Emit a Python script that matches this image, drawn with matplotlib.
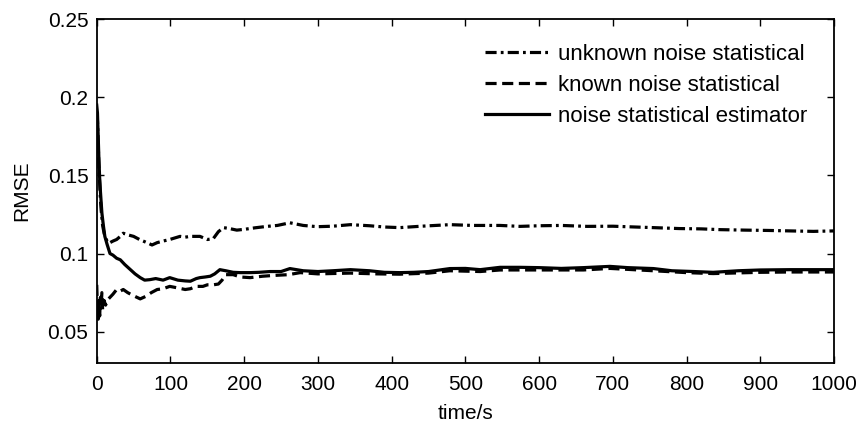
import matplotlib
matplotlib.use('Agg')
import matplotlib.pyplot as plt
from matplotlib.ticker import FixedLocator, FuncFormatter

plt.rcParams['font.family'] = ['Liberation Sans', 'DejaVu Sans']
plt.rcParams['lines.scale_dashes'] = False

# unknown noise statistical (dash-dot)
t_unknown = [0, 1, 2, 3, 4, 5, 6, 8, 10, 12, 15, 18, 22, 27, 32, 36, 42, 50, 58, 68,
             75, 82, 90, 99, 106, 113, 120, 127, 140, 150, 158, 165, 172, 180, 190, 200,
             215, 231, 245, 262, 280, 299, 320, 344, 370, 390, 411, 440, 479, 510, 547,
             574, 600, 630, 665, 700, 730, 755, 790, 820, 846, 880, 910, 940, 972, 1000]
v_unknown = [0.19, 0.185, 0.17, 0.155, 0.145, 0.135, 0.128, 0.118, 0.113, 0.110, 0.107,
             0.107, 0.108, 0.109, 0.111, 0.113, 0.112, 0.111, 0.109, 0.107, 0.1055, 0.107,
             0.108, 0.109, 0.110, 0.111, 0.1105, 0.111, 0.111, 0.109, 0.1095, 0.114, 0.1166,
             0.116, 0.115, 0.1155, 0.1165, 0.1174, 0.118, 0.1197, 0.118, 0.1172, 0.1175,
             0.1185, 0.1178, 0.117, 0.1166, 0.1175, 0.1185, 0.118, 0.118, 0.1174, 0.1178,
             0.118, 0.1174, 0.1175, 0.117, 0.1166, 0.116, 0.1158, 0.1153, 0.115, 0.1148,
             0.1145, 0.1142, 0.1145]

# known noise statistical (dashed)
t_known = [0, 1, 2, 3, 4, 5, 6, 7, 8, 10, 12, 15, 18, 22, 27, 32, 36, 42, 50, 59, 66,
           74, 82, 90, 99, 110, 120, 127, 135, 144, 150, 158, 165, 170, 175, 185, 195,
           208, 225, 240, 260, 276, 300, 344, 380, 411, 450, 479, 520, 547, 600, 660,
           696, 755, 800, 836, 900, 940, 1000]
v_known = [0.08, 0.065, 0.058, 0.07, 0.06, 0.072, 0.066, 0.075, 0.064, 0.07, 0.067,
           0.0705, 0.072, 0.074, 0.077, 0.076, 0.077, 0.075, 0.073, 0.071, 0.0725, 0.075,
           0.077, 0.0775, 0.079, 0.078, 0.077, 0.0775, 0.079, 0.079, 0.080, 0.080, 0.0805,
           0.083, 0.0865, 0.0865, 0.085, 0.0846, 0.0855, 0.086, 0.0865, 0.0878, 0.087,
           0.0875, 0.087, 0.0868, 0.0875, 0.089, 0.0885, 0.0895, 0.0895, 0.0895, 0.0905,
           0.089, 0.0878, 0.0872, 0.088, 0.0882, 0.0882]

# noise statistical estimator (solid)
t_est = [0, 1, 2, 3, 4, 5, 7, 9, 11, 14, 18, 22, 27, 32, 38, 45, 52, 59, 65, 72, 80,
         90, 99, 110, 120, 127, 135, 140, 147, 154, 160, 167, 175, 185, 195, 208, 220,
         235, 250, 262, 280, 300, 320, 344, 370, 390, 411, 430, 450, 479, 500, 520, 547,
         574, 600, 630, 660, 696, 720, 755, 780, 810, 836, 870, 900, 940, 970, 1000]
v_est = [0.195, 0.19, 0.175, 0.16, 0.148, 0.14, 0.126, 0.118, 0.111, 0.106, 0.100,
         0.099, 0.097, 0.096, 0.093, 0.090, 0.087, 0.0846, 0.083, 0.0833, 0.084, 0.083,
         0.0846, 0.083, 0.0825, 0.0823, 0.084, 0.0846, 0.085, 0.0855, 0.087, 0.0897,
         0.089, 0.088, 0.0878, 0.0878, 0.088, 0.0885, 0.0885, 0.0904, 0.089, 0.0885,
         0.089, 0.0897, 0.089, 0.088, 0.0878, 0.088, 0.0885, 0.0904, 0.0905, 0.0897,
         0.0912, 0.0912, 0.091, 0.0905, 0.091, 0.0918, 0.091, 0.0904, 0.089, 0.0885,
         0.088, 0.089, 0.0895, 0.0897, 0.0897, 0.0897]

x_ticks = [0, 100, 200, 300, 400, 500, 600, 700, 800, 900, 1000]
y_ticks = [0.05, 0.1, 0.15, 0.2, 0.25]

fig = plt.figure(figsize=(8.59, 4.26), dpi=100)
ax = fig.add_axes([0.1126, 0.148, 0.8584, 0.807])

ax.plot(t_unknown, v_unknown, color='k', lw=2.3, linestyle=(0, (8, 3, 2, 3)),
        label='unknown noise statistical')
ax.plot(t_known, v_known, color='k', lw=2.3, linestyle=(0, (8, 4)),
        label='known noise statistical')
ax.plot(t_est, v_est, color='k', lw=2.3, linestyle='-',
        label='noise statistical estimator')

ax.set_xlim(0, 1000)
ax.set_ylim(0.03, 0.25)
ax.xaxis.set_major_locator(FixedLocator(x_ticks))
ax.yaxis.set_major_locator(FixedLocator(y_ticks))
ax.yaxis.set_major_formatter(FuncFormatter(lambda v, p: '%g' % v))
ax.tick_params(direction='in', top=True, right=True, length=5, width=1,
               labelsize=15)
ax.tick_params(axis='x', pad=9)
ax.tick_params(axis='y', pad=6)
for s in ax.spines.values():
    s.set_linewidth(1.3)

ax.set_xlabel('time/s', fontsize=15, labelpad=7)
ax.set_ylabel('RMSE', fontsize=15, labelpad=12)

ax.legend(loc='upper right', bbox_to_anchor=(0.976, 0.954), frameon=False,
          fontsize=16, handlelength=2.9, handletextpad=0.4, labelspacing=0.45,
          borderaxespad=0)

fig.savefig('out.png', dpi=100)
